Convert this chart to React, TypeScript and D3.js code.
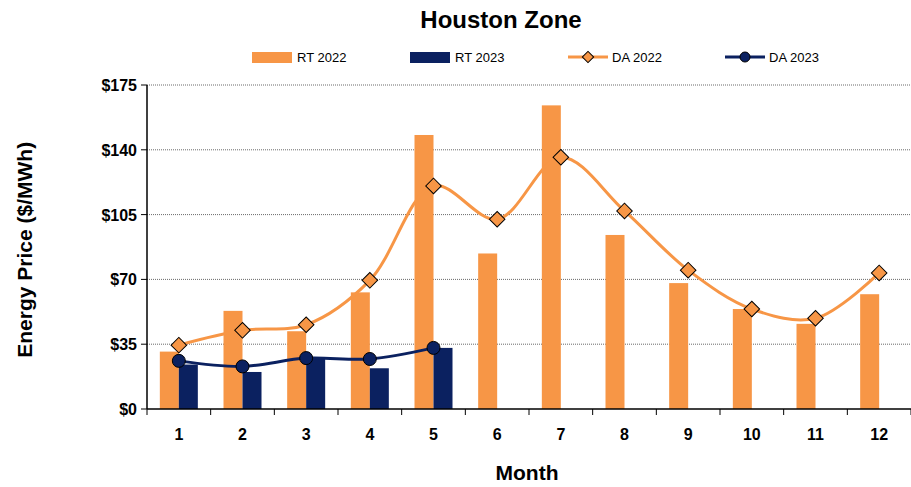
import { useRef, useEffect } from 'react'
import * as d3 from 'd3'

const months = [1, 2, 3, 4, 5, 6, 7, 8, 9, 10, 11, 12]
const rt2022 = [31, 53, 42, 63, 148, 84, 164, 94, 68, 54, 46, 62]
const rt2023 = [24, 20, 28, 22, 33]
const da2022 = [34.5, 42.5, 45.5, 69.5, 120.5, 102.5, 136, 107, 75, 54, 49, 73.5]
const da2023 = [26, 23, 27.5, 27, 33]
const yTicks = [0, 35, 70, 105, 140, 175]

const ORANGE = '#f79646'
const NAVY = '#0b2160'
const FONT = 'Arial, "Liberation Sans", sans-serif'

export default function App() {
  const svgRef = useRef<SVGSVGElement>(null)

  useEffect(() => {
    if (!svgRef.current) return
    const svg = d3.select(svgRef.current)
    svg.selectAll('*').remove()
    const width = 911, height = 487
    const margin = { top: 85, right: 0, bottom: 78, left: 147 }
    const x = d3.scaleBand<number>().domain(months).range([margin.left, width - margin.right])
    const y = d3.scaleLinear().domain([0, 175]).range([height - margin.bottom, margin.top])
    const cx = (m: number) => x(m)! + x.bandwidth() / 2
    const bw = 19

    svg.append('text').attr('x', 501).attr('y', 28).attr('text-anchor', 'middle')
      .style('font', `bold 24px ${FONT}`).text('Houston Zone')

    // gridlines
    svg.append('g').selectAll('line').data(yTicks.slice(1)).join('line')
      .attr('x1', margin.left).attr('x2', width - margin.right)
      .attr('y1', d => y(d)).attr('y2', d => y(d))
      .attr('stroke', '#444').attr('stroke-width', 0.8).attr('stroke-dasharray', '1,1')

    // bars
    svg.append('g').selectAll('rect').data(rt2022).join('rect')
      .attr('x', (_, i) => cx(months[i]) - bw).attr('y', d => y(d))
      .attr('width', bw).attr('height', d => y(0) - y(d)).attr('fill', ORANGE)
    svg.append('g').selectAll('rect').data(rt2023).join('rect')
      .attr('x', (_, i) => cx(months[i])).attr('y', d => y(d))
      .attr('width', bw).attr('height', d => y(0) - y(d)).attr('fill', NAVY)

    const line = d3.line<number>().x((_, i) => cx(months[i])).y(d => y(d)).curve(d3.curveCatmullRom.alpha(0.5))
    svg.append('path').attr('d', line(da2022)).attr('fill', 'none').attr('stroke', ORANGE).attr('stroke-width', 3)
    svg.append('path').attr('d', line(da2023)).attr('fill', 'none').attr('stroke', NAVY).attr('stroke-width', 3)

    svg.append('g').selectAll('rect').data(da2022).join('rect')
      .attr('x', -5.5).attr('y', -5.5).attr('width', 11).attr('height', 11)
      .attr('transform', (d, i) => `translate(${cx(months[i])},${y(d)}) rotate(45)`)
      .attr('fill', ORANGE).attr('stroke', '#000').attr('stroke-width', 1)
    svg.append('g').selectAll('circle').data(da2023).join('circle')
      .attr('cx', (_, i) => cx(months[i])).attr('cy', d => y(d)).attr('r', 6.5)
      .attr('fill', NAVY).attr('stroke', '#000').attr('stroke-width', 1)

    // axes frame
    svg.append('line').attr('x1', margin.left).attr('x2', margin.left).attr('y1', y(175)).attr('y2', y(0)).attr('stroke', '#000').attr('stroke-width', 1.5)
    svg.append('line').attr('x1', margin.left).attr('x2', width).attr('y1', y(0)).attr('y2', y(0)).attr('stroke', '#000').attr('stroke-width', 1.5)
    svg.append('g').selectAll('line').data(yTicks).join('line')
      .attr('x1', margin.left - 6).attr('x2', margin.left).attr('y1', d => y(d)).attr('y2', d => y(d)).attr('stroke', '#000')
    svg.append('g').selectAll('line').data(d3.range(13)).join('line')
      .attr('x1', d => margin.left + d * x.step()).attr('x2', d => margin.left + d * x.step())
      .attr('y1', y(0)).attr('y2', y(0) + 6).attr('stroke', '#000')

    svg.append('g').selectAll('text').data(yTicks).join('text')
      .attr('x', margin.left - 10).attr('y', d => y(d) + 6).attr('text-anchor', 'end')
      .style('font', `bold 16px ${FONT}`).text(d => `$${d}`)
    svg.append('g').selectAll('text').data(months).join('text')
      .attr('x', d => cx(d)).attr('y', y(0) + 31).attr('text-anchor', 'middle')
      .style('font', `bold 16px ${FONT}`).text(d => d)

    svg.append('text').attr('x', 527).attr('y', 480).attr('text-anchor', 'middle')
      .style('font', `bold 21px ${FONT}`).text('Month')
    svg.append('text').attr('transform', `translate(32,${y(86)}) rotate(-90)`).attr('text-anchor', 'middle')
      .style('font', `bold 21px ${FONT}`).text('Energy Price ($/MWh)')

    // legend
    const lg = svg.append('g').style('font', `13px ${FONT}`)
    lg.append('rect').attr('x', 252).attr('y', 52).attr('width', 40).attr('height', 11).attr('fill', ORANGE)
    lg.append('text').attr('x', 297).attr('y', 62).text('RT 2022')
    lg.append('rect').attr('x', 410).attr('y', 52).attr('width', 40).attr('height', 11).attr('fill', NAVY)
    lg.append('text').attr('x', 455).attr('y', 62).text('RT 2023')
    lg.append('line').attr('x1', 568).attr('x2', 608).attr('y1', 57).attr('y2', 57).attr('stroke', ORANGE).attr('stroke-width', 3)
    lg.append('rect').attr('x', -4).attr('y', -4).attr('width', 8).attr('height', 8)
      .attr('transform', 'translate(588,57) rotate(45)').attr('fill', ORANGE).attr('stroke', '#000')
    lg.append('text').attr('x', 612).attr('y', 62).text('DA 2022')
    lg.append('line').attr('x1', 725).attr('x2', 765).attr('y1', 57).attr('y2', 57).attr('stroke', NAVY).attr('stroke-width', 3)
    lg.append('circle').attr('cx', 745).attr('cy', 57).attr('r', 5).attr('fill', NAVY).attr('stroke', '#000')
    lg.append('text').attr('x', 769).attr('y', 62).text('DA 2023')
  }, [])

  return <svg ref={svgRef} width={911} height={487} style={{ position: 'absolute', left: 0, top: 0, background: '#fff' }} />
}
